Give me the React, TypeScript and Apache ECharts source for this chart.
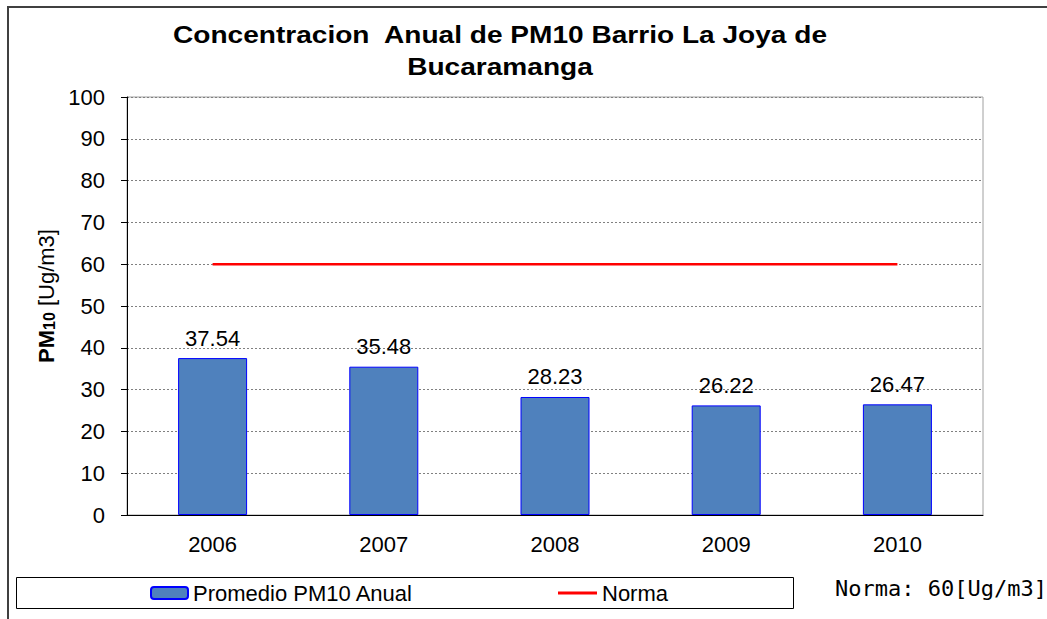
import React, { useEffect, useRef } from 'react';
import * as echarts from 'echarts';

const years = ['2006', '2007', '2008', '2009', '2010'];
const promedio = [37.54, 35.48, 28.23, 26.22, 26.47];
const norma = [60, 60, 60, 60, 60];
const yMin = 0;
const yMax = 100;
const yInterval = 10;
const titleText = 'Concentracion  Anual de PM10 Barrio La Joya de\nBucaramanga';
const noteText = 'Norma: 60[Ug/m3]';
const barName = 'Promedio PM10 Anual';
const lineName = 'Norma';

const FONT = '"Liberation Sans", Arial, sans-serif';

export default function App() {
  const ref = useRef<HTMLDivElement>(null);
  useEffect(() => {
    const chart = echarts.init(ref.current!, null, { renderer: 'svg' });
    chart.setOption({
      animation: false,
      backgroundColor: '#ffffff',
      textStyle: { fontFamily: FONT },
      grid: {
        left: 127,
        right: 64,
        top: 97,
        bottom: 104,
        show: true,
        borderColor: '#a0a0a0',
        borderWidth: 1,
        backgroundColor: 'transparent',
      },
      xAxis: {
        type: 'category',
        data: years,
        axisLine: { show: true, lineStyle: { color: '#000', width: 1 } },
        axisTick: { show: false },
        axisLabel: { color: '#000', fontSize: 22, margin: 18, fontFamily: FONT },
        splitLine: { show: false },
      },
      yAxis: {
        type: 'value',
        min: yMin,
        max: yMax,
        interval: yInterval,
        axisLine: { show: true, lineStyle: { color: '#000', width: 1 } },
        axisTick: { show: true, length: 6, lineStyle: { color: '#000' } },
        axisLabel: { color: '#000', fontSize: 22, margin: 22, fontFamily: FONT },
        splitLine: { show: true, lineStyle: { color: '#808080', type: [2, 2], width: 1 } },
        name: '{b|PM}{s|10}{n| [Ug/m3]}',
        nameLocation: 'middle',
        nameGap: 68,
        nameRotate: 90,
        nameTextStyle: {
          color: '#000',
          padding: [0, 0, 0, 20],
          rich: {
            b: { fontWeight: 'bold', fontSize: 22, fontFamily: FONT, color: '#000', verticalAlign: 'bottom' },
            s: { fontWeight: 'bold', fontSize: 16, fontFamily: FONT, color: '#000', verticalAlign: 'bottom' },
            n: { fontSize: 22, fontFamily: FONT, color: '#000', verticalAlign: 'bottom' },
          },
        },
      },
      legend: [
        {
          data: [barName],
          left: 150,
          top: 582,
          padding: 0,
          itemWidth: 37,
          itemHeight: 12,
          textStyle: { fontSize: 22, color: '#000', fontFamily: FONT },
        },
        {
          data: [{ name: lineName, icon: 'rect' }],
          left: 558,
          top: 582,
          padding: 0,
          itemWidth: 39,
          itemHeight: 3,
          textStyle: { fontSize: 22, color: '#000', fontFamily: FONT },
        },
      ],
      series: [
        {
          name: barName,
          type: 'bar',
          data: promedio,
          barWidth: 69,
          itemStyle: { color: '#4F81BD', borderColor: '#0000FF', borderWidth: 1 },
          label: { show: true, position: 'top', distance: 9, color: '#000', fontSize: 22, fontFamily: FONT },
        },
        {
          name: lineName,
          type: 'line',
          data: norma,
          symbol: 'none',
          showSymbol: false,
          itemStyle: { color: '#FF0000' },
          lineStyle: { color: '#FF0000', width: 2.5 },
        },
      ],
      graphic: [
        {
          type: 'rect',
          silent: true,
          shape: { x: 8, y: 7, width: 1200, height: 800 },
          style: { fill: 'none', stroke: '#404040', lineWidth: 2 },
        },
        {
          type: 'rect',
          silent: true,
          shape: { x: 16.5, y: 577.5, width: 777, height: 31 },
          style: { fill: 'none', stroke: '#000', lineWidth: 1 },
        },
        {
          type: 'text',
          x: 500,
          y: 19,
          scaleX: 1.17,
          style: {
            text: titleText,
            font: 'bold 24px "Liberation Sans", Arial, sans-serif',
            fill: '#000',
            textAlign: 'center',
            align: 'center',
            textVerticalAlign: 'top',
            verticalAlign: 'top',
            lineHeight: 32,
          },
        },
        {
          type: 'text',
          x: 835,
          y: 588,
          style: {
            text: noteText,
            font: '22px "DejaVu Sans Mono", monospace',
            fill: '#000',
            textAlign: 'left',
            align: 'left',
            textVerticalAlign: 'middle',
            verticalAlign: 'middle',
          },
        },
      ],
    });
    return () => chart.dispose();
  }, []);
  return <div ref={ref} style={{ position: 'absolute', left: 0, top: 0, width: 1047, height: 619 }} />;
}
